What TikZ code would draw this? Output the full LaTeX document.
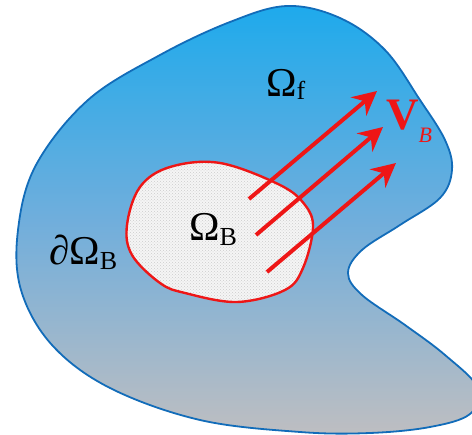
\documentclass[tikz,border=0pt]{standalone}
\usepackage{fontspec}
\setmainfont{Liberation Serif}
\usetikzlibrary{arrows.meta,patterns}
\definecolor{fluid_top}{RGB}{30,170,236}
\definecolor{fluid_mid}{RGB}{112,174,220}
\definecolor{fluid_bot}{RGB}{190,190,193}
\definecolor{fluid_edge}{RGB}{18,108,185}
\definecolor{body_red}{RGB}{238,22,22}
\newcommand{\lowsub}[2][5pt]{\raisebox{-#1}{\fontsize{26}{28}\selectfont #2}}

\begin{document}
\begin{tikzpicture}[x=1pt,y=-1pt,
    lbl/.style={font=\fontsize{41}{44}\selectfont,inner sep=0pt,anchor=base west},
    velarrow/.style={body_red,line width=4pt,-{Stealth[length=24pt,width=24pt,inset=8pt]}}]
  \useasboundingbox (0,0) rectangle (472,435);
  \clip (0,0) rectangle (472,435);
  % fluid domain
  \draw[fluid_edge,line width=1.8pt,top color=fluid_top,bottom color=fluid_bot,middle color=fluid_mid]
    plot[smooth cycle,tension=0.6] coordinates {(287,6) (340,18) (385,50) (420,100) (445,140)
      (452,170) (440,198) (400,225) (362,250) (348,273) (362,295) (405,325) (445,355)
      (478,388) (470,414) (430,427) (370,433) (300,432) (200,420) (110,388) (52,345)
      (21,290) (18,230) (36,165) (88,100) (160,55) (230,22)};
  % body
  \fill[gray!8] plot[smooth cycle,tension=0.6] coordinates {(220,163) (280,185) (305,205)
      (313,228) (303,268) (285,290) (237,302) (185,293) (160,283) (132,255) (127,225)
      (140,187) (170,167)};
  \draw[body_red,line width=2.4pt,pattern=crosshatch dots,pattern color=gray!40]
    plot[smooth cycle,tension=0.6] coordinates {(220,163) (280,185) (305,205)
      (313,228) (303,268) (285,290) (237,302) (185,293) (160,283) (132,255) (127,225)
      (140,187) (170,167)};
  % velocity arrows
  \coordinate (a1s) at (249,199);
  \coordinate (a1e) at (377,91);
  \coordinate (a2s) at (256,235);
  \coordinate (a2e) at (383,127);
  \coordinate (a3s) at (267,272);
  \coordinate (a3e) at (396,163);
  \draw[velarrow] (a1s) -- (a1e);
  \draw[velarrow] (a2s) -- (a2e);
  \draw[velarrow] (a3s) -- (a3e);
  % labels
  \node[lbl] (omf) at (266,97) {Ω\lowsub[3pt]{f}};
  \node[lbl] (omb) at (189,241) {Ω\lowsub{B}};
  \node[lbl] (dob) at (49,265) {∂Ω\lowsub{B}};
  \node[lbl,body_red] (vb) at (386,130) {\fontsize{45}{48}\selectfont\bfseries V\lowsub[13pt]{\fontsize{22}{24}\selectfont\mdseries\itshape B}};
\end{tikzpicture}
\end{document}
